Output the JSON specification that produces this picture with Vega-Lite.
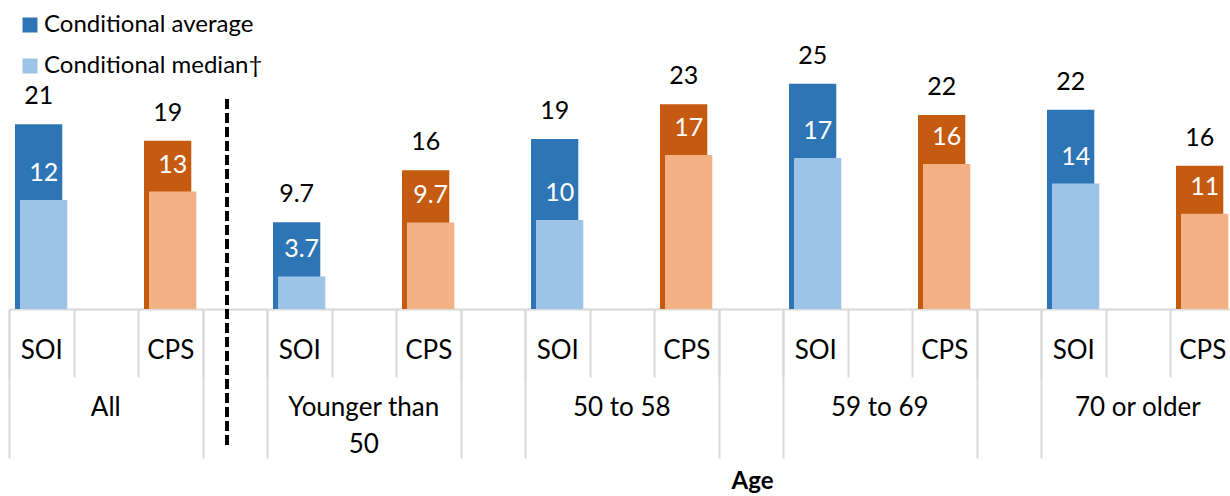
{
  "$schema": "https://vega.github.io/schema/vega-lite/v6.json",
  "width": 1221,
  "height": 309,
  "autosize": {"type": "none"},
  "padding": {"left": 9, "top": 0, "right": 0, "bottom": 187},
  "config": {"view": {"stroke": null}, "font": "Lato"},
  "data": {"values": [
    {"slot": "All|SOI", "measure": "average", "series": "SOI average", "value": 20.75},
    {"slot": "All|SOI", "measure": "median", "series": "SOI median", "value": 12.25},
    {"slot": "All|CPS", "measure": "average", "series": "CPS average", "value": 18.9},
    {"slot": "All|CPS", "measure": "median", "series": "CPS median", "value": 13.2},
    {"slot": "Younger than 50|SOI", "measure": "average", "series": "SOI average", "value": 9.74},
    {"slot": "Younger than 50|SOI", "measure": "median", "series": "SOI median", "value": 3.66},
    {"slot": "Younger than 50|CPS", "measure": "average", "series": "CPS average", "value": 15.6},
    {"slot": "Younger than 50|CPS", "measure": "median", "series": "CPS median", "value": 9.72},
    {"slot": "50 to 58|SOI", "measure": "average", "series": "SOI average", "value": 19.1},
    {"slot": "50 to 58|SOI", "measure": "median", "series": "SOI median", "value": 10.0},
    {"slot": "50 to 58|CPS", "measure": "average", "series": "CPS average", "value": 23.0},
    {"slot": "50 to 58|CPS", "measure": "median", "series": "CPS median", "value": 17.3},
    {"slot": "59 to 69|SOI", "measure": "average", "series": "SOI average", "value": 25.3},
    {"slot": "59 to 69|SOI", "measure": "median", "series": "SOI median", "value": 16.97},
    {"slot": "59 to 69|CPS", "measure": "average", "series": "CPS average", "value": 21.8},
    {"slot": "59 to 69|CPS", "measure": "median", "series": "CPS median", "value": 16.3},
    {"slot": "70 or older|SOI", "measure": "average", "series": "SOI average", "value": 22.4},
    {"slot": "70 or older|SOI", "measure": "median", "series": "SOI median", "value": 14.1},
    {"slot": "70 or older|CPS", "measure": "average", "series": "CPS average", "value": 16.1},
    {"slot": "70 or older|CPS", "measure": "median", "series": "CPS median", "value": 10.7}
  ]},
  "resolve": {"axis": {"x": "independent"}},
  "layer": [
    {
      "transform": [{"filter": "datum.measure == 'average'"}],
      "mark": {"type": "bar", "width": {"band": 0.733}, "xOffset": -2.6},
      "encoding": {
        "x": {
          "field": "slot", "type": "nominal",
          "scale": {
            "domain": ["All|SOI", "All|", "All|CPS", "g1|",
                       "Younger than 50|SOI", "Younger than 50|", "Younger than 50|CPS", "g2|",
                       "50 to 58|SOI", "50 to 58|", "50 to 58|CPS", "g3|",
                       "59 to 69|SOI", "59 to 69|", "59 to 69|CPS", "g4|",
                       "70 or older|SOI", "70 or older|", "70 or older|CPS"],
            "range": [0, 1225.5],
            "paddingInner": 0, "paddingOuter": 0
          },
          "axis": {
            "orient": "bottom", "title": null, "grid": false,
            "domainColor": "#D9D9D9", "domainWidth": 2,
            "tickBand": "extent", "tickColor": "#D9D9D9", "tickWidth": 2, "tickSize": 68,
            "labelExpr": "split(datum.value, '|')[1]",
            "labelFont": "Lato", "labelFontSize": 26, "labelColor": "#000000",
            "labelBaseline": "alphabetic", "labelPadding": -19, "labelAngle": 0,
            "labelOverlap": false, "labelLimit": 0
          }
        },
        "y": {"field": "value", "type": "quantitative", "scale": {"domain": [0, 34.72], "nice": false, "zero": true}, "axis": null},
        "color": {
          "field": "series", "type": "nominal",
          "scale": {"domain": ["SOI average", "SOI median", "CPS average", "CPS median"],
                    "range": ["#2E75B6", "#9DC3E6", "#C55A11", "#F4B183"]},
          "legend": {
            "orient": "none", "legendX": 9, "legendY": 13, "title": null,
            "values": ["SOI average", "SOI median"],
            "labelExpr": "datum.label == 'SOI average' ? 'Conditional average' : 'Conditional median†'",
            "symbolType": "square", "symbolSize": 225, "symbolStrokeWidth": 0,
            "labelFont": "Lato", "labelFontSize": 24, "labelColor": "#000000",
            "labelOffset": 2, "rowPadding": 17, "padding": 0, "labelLimit": 0
          }
        }
      }
    },
    {
      "transform": [{"filter": "datum.measure == 'median'"}],
      "mark": {"type": "bar", "width": {"band": 0.733}, "xOffset": 2.4},
      "encoding": {
        "x": {
          "field": "slot", "type": "nominal",
          "axis": {
            "orient": "bottom", "title": null, "grid": false, "domain": false, "labels": false,
            "tickColor": "#D9D9D9", "tickWidth": 2, "tickSize": 149, "tickOffset": -32.25,
            "values": ["All|SOI", "g1|", "Younger than 50|SOI", "g2|", "50 to 58|SOI", "g3|", "59 to 69|SOI", "g4|", "70 or older|SOI"]
          }
        },
        "y": {"field": "value", "type": "quantitative", "axis": null},
        "color": {"field": "series", "type": "nominal"}
      }
    },
    {
      "transform": [{"filter": "datum.measure == 'average'"}],
      "mark": {"type": "text", "baseline": "alphabetic", "align": "center", "dy": -20, "xOffset": -2.6, "fontSize": 25, "font": "Lato", "color": "#000000"},
      "encoding": {
        "x": {
          "field": "slot", "type": "nominal",
          "axis": {
            "orient": "bottom", "title": "Age", "grid": false, "domain": false, "ticks": false,
            "values": ["All|", "Younger than 50|", "50 to 58|", "59 to 69|", "70 or older|"],
            "labelExpr": "datum.value == 'Younger than 50|' ? ['Younger than', '50'] : split(datum.value, '|')[0]",
            "labelFont": "Lato", "labelFontSize": 26, "labelColor": "#000000",
            "labelBaseline": "alphabetic", "labelPadding": 106, "labelLineHeight": 37,
            "labelAngle": 0, "labelOverlap": false, "labelLimit": 0,
            "titleFont": "Lato", "titleFontSize": 24, "titleFontWeight": "bold", "titleColor": "#000000",
            "titleX": 743, "titleY": 179, "titleBaseline": "alphabetic", "titleAlign": "center"
          }
        },
        "y": {"field": "value", "type": "quantitative", "axis": null},
        "text": {"field": "value", "type": "quantitative", "format": ".2r"}
      }
    },
    {
      "transform": [{"filter": "datum.measure == 'median'"}],
      "mark": {"type": "text", "baseline": "alphabetic", "align": "center", "dy": -19, "xOffset": 2.4, "fontSize": 25, "font": "Lato", "color": "#FFFFFF"},
      "encoding": {
        "x": {"field": "slot", "type": "nominal", "axis": null},
        "y": {"field": "value", "type": "quantitative", "axis": null},
        "text": {"field": "value", "type": "quantitative", "format": ".2r"}
      }
    },
    {
      "mark": {"type": "rule", "color": "#000000", "strokeWidth": 3, "strokeDash": [10, 4]},
      "encoding": {
        "x": {"datum": "g1|", "type": "nominal", "bandPosition": 0.385, "axis": null},
        "y": {"datum": 23.6, "type": "quantitative", "axis": null},
        "y2": {"datum": -15.5}
      }
    }
  ]
}
